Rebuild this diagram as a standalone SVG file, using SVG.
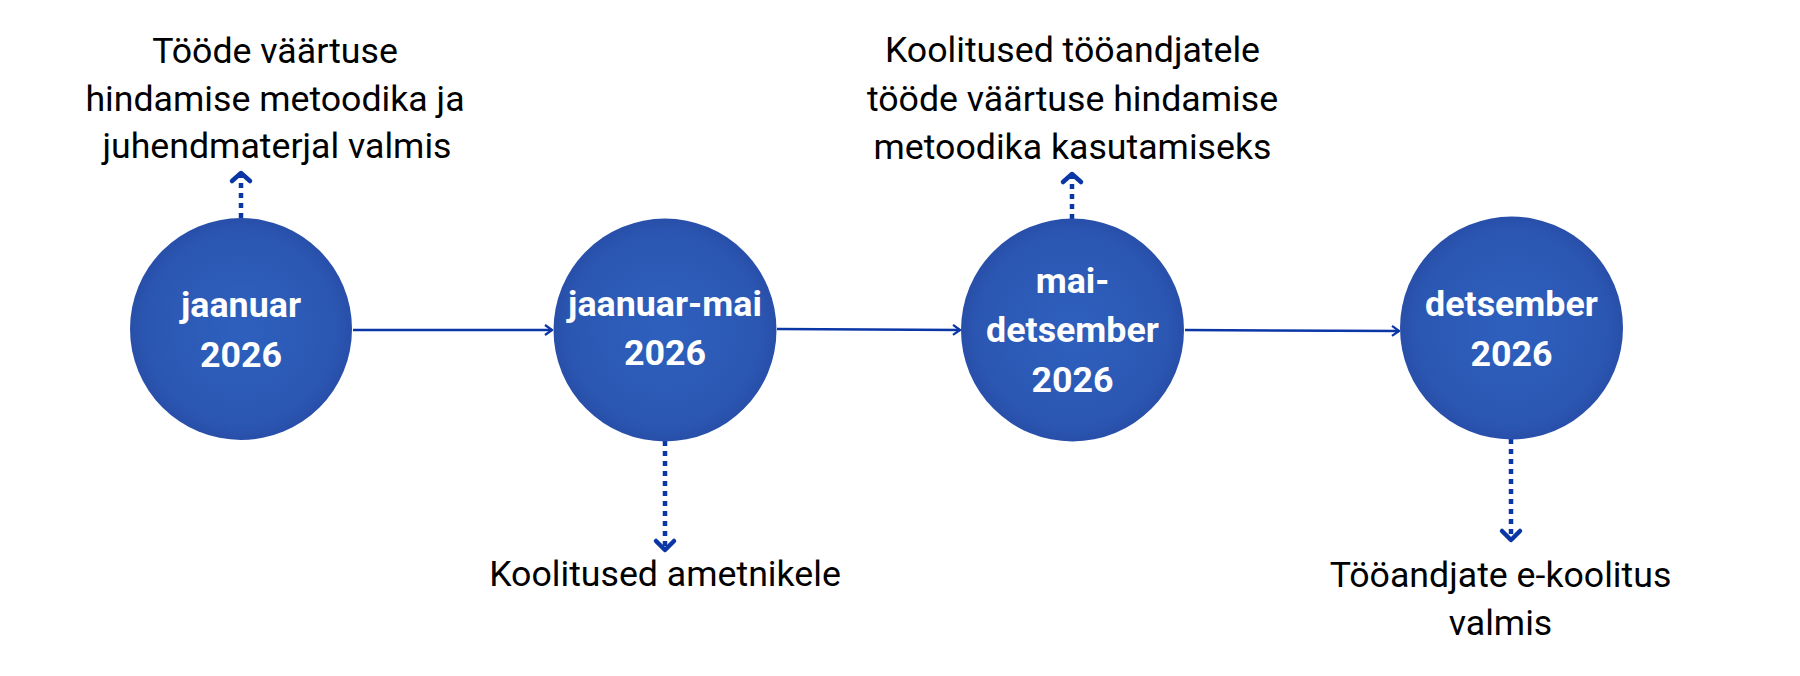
<svg xmlns="http://www.w3.org/2000/svg" width="1800" height="676" viewBox="0 0 1800 676">
<style>
.node circle{fill:url(#g)}
.nt{font-family:Roboto,"Liberation Sans",sans-serif;font-weight:bold;font-size:35.8px;fill:#ffffff;text-anchor:middle}
.lb{font-family:Roboto,"Liberation Sans",sans-serif;font-size:35.7px;fill:#000000;text-anchor:middle}
.solid{stroke:#0a36a6;stroke-width:2.5;fill:none}
.dot{stroke:#0a36a6;stroke-width:4.5;fill:none;stroke-dasharray:5 5}
.head{stroke:#0a36a6;stroke-width:4.5;fill:none;stroke-linecap:round;stroke-linejoin:round}
</style>
<defs>
<radialGradient id="g" cx="0.5" cy="0.5" r="0.5">
<stop offset="0" stop-color="#2e60be"/>
<stop offset="0.85" stop-color="#2b57b2"/>
<stop offset="1" stop-color="#284fa9"/>
</radialGradient>
<marker id="ah" viewBox="0 0 12 12" refX="11" refY="6" markerWidth="12" markerHeight="12" markerUnits="userSpaceOnUse" orient="auto">
<path d="M4,1 L11,6 L4,11" fill="none" stroke="#0a36a6" stroke-width="2.2"/>
</marker>
</defs>
<rect width="1800" height="676" fill="#ffffff"/>
<g id="connectors">
<line class="solid" x1="353" y1="330" x2="552" y2="330" marker-end="url(#ah)"/>
<line class="solid" x1="777" y1="329" x2="960" y2="330" marker-end="url(#ah)"/>
<line class="solid" x1="1185" y1="330" x2="1399" y2="331" marker-end="url(#ah)"/>
<line class="dot" x1="241" y1="218" x2="241" y2="175"/>
<path class="head" d="M232,181 L241,173 L250,181"/>
<line class="dot" x1="665" y1="441" x2="665" y2="550"/>
<path class="head" d="M656,541 L665,550 L674,541"/>
<line class="dot" x1="1072" y1="219" x2="1072" y2="175"/>
<path class="head" d="M1063,182 L1072,174 L1081,182"/>
<line class="dot" x1="1511" y1="439" x2="1511" y2="540"/>
<path class="head" d="M1502,531 L1511,540 L1520,531"/>
</g>
<g id="n1" class="node">
<circle cx="241" cy="329" r="111"/>
<text class="nt" x="241" y="317">jaanuar</text>
<text class="nt" x="241" y="367">2026</text>
</g>
<g id="n2" class="node">
<circle cx="665" cy="330" r="111.5"/>
<text class="nt" x="665" y="316">jaanuar-mai</text>
<text class="nt" x="665" y="365">2026</text>
</g>
<g id="n3" class="node">
<circle cx="1072.5" cy="330" r="111.5"/>
<text class="nt" x="1072.5" y="293">mai-</text>
<text class="nt" x="1072.5" y="342">detsember</text>
<text class="nt" x="1072.5" y="392">2026</text>
</g>
<g id="n4" class="node">
<circle cx="1511.5" cy="328" r="111.5"/>
<text class="nt" x="1511.5" y="316">detsember</text>
<text class="nt" x="1511.5" y="366">2026</text>
</g>
<g id="l1">
<text class="lb" x="275" y="63">Tööde väärtuse</text>
<text class="lb" x="275" y="111">hindamise metoodika ja</text>
<text class="lb" x="277" y="158">juhendmaterjal valmis</text>
</g>
<g id="l2">
<text class="lb" x="665" y="586">Koolitused ametnikele</text>
</g>
<g id="l3">
<text class="lb" x="1072.5" y="62">Koolitused tööandjatele</text>
<text class="lb" x="1072.5" y="111">tööde väärtuse hindamise</text>
<text class="lb" x="1072.5" y="159">metoodika kasutamiseks</text>
</g>
<g id="l4">
<text class="lb" x="1500.5" y="587">Tööandjate e-koolitus</text>
<text class="lb" x="1500.5" y="635">valmis</text>
</g>
</svg>
